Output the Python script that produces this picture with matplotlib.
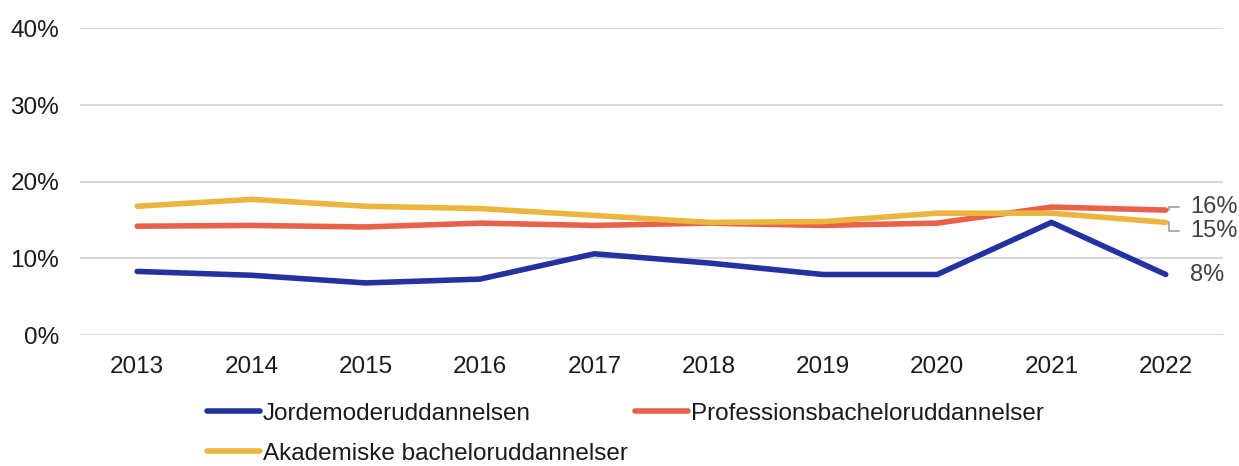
import matplotlib
matplotlib.use("Agg")
import matplotlib.pyplot as plt
from matplotlib.ticker import PercentFormatter

# ── Data ──────────────────────────────────────────────────────────────────────
years = ["2013", "2014", "2015", "2016", "2017", "2018", "2019", "2020", "2021", "2022"]
jordemoder = [8.3, 7.8, 6.8, 7.3, 10.6, 9.4, 7.9, 7.9, 14.7, 7.9]
professions = [14.2, 14.3, 14.1, 14.6, 14.3, 14.6, 14.3, 14.6, 16.7, 16.3]
akademiske = [16.8, 17.7, 16.8, 16.5, 15.6, 14.7, 14.8, 15.9, 15.9, 14.7]
end_labels = ["8%", "16%", "15%"]

BLUE = "#2332A0"
RED = "#E9614A"
YELLOW = "#EBB53E"
GRID = "#D9D9D9"

plt.rcParams["font.family"] = ["Liberation Sans", "DejaVu Sans"]

fig = plt.figure(figsize=(12.39, 4.66), dpi=100)
ax = fig.add_axes([0.0646, 0.281, 0.9224, 0.658])

x = list(range(len(years)))
lw = 4.0
l1, = ax.plot(x, jordemoder, color=BLUE, lw=lw, solid_capstyle="round",
              label="Jordemoderuddannelsen")
l2, = ax.plot(x, professions, color=RED, lw=lw, solid_capstyle="round",
              label="Professionsbacheloruddannelser")
l3, = ax.plot(x, akademiske, color=YELLOW, lw=lw, solid_capstyle="round",
              label="Akademiske bacheloruddannelser")

ax.set_xlim(-0.5, len(years) - 0.5)
ax.set_ylim(0, 40)
ax.set_yticks([0, 10, 20, 30, 40])
ax.yaxis.set_major_formatter(PercentFormatter(decimals=0))
ax.set_xticks(x)
ax.set_xticklabels(years)
ax.tick_params(axis="both", length=0, labelsize=17.5, labelcolor="#1a1a1a")
ax.tick_params(axis="y", pad=15)
ax.tick_params(axis="x", pad=15)
ax.grid(axis="y", color=GRID, lw=1.5)
ax.set_axisbelow(True)
for s in ax.spines.values():
    s.set_visible(False)

# ── End labels ────────────────────────────────────────────────────────────────
last = x[-1]
lead = dict(arrowstyle="-", color="#A6A6A6", lw=1.3, shrinkA=6, shrinkB=0,
            connectionstyle="angle,angleA=0,angleB=90,rad=0", relpos=(0, 0.5))
ax.annotate(end_labels[0], xy=(last, jordemoder[-1]), xytext=(24, -1),
            textcoords="offset pixels", va="center", ha="left",
            fontsize=17, color="#404040")
ax.annotate(end_labels[1], xy=(last + 0.03, professions[-1]), xytext=(21, 3),
            textcoords="offset pixels", va="center", ha="left",
            fontsize=17, color="#404040", arrowprops=lead)
ax.annotate(end_labels[2], xy=(last + 0.03, akademiske[-1]), xytext=(21, -9),
            textcoords="offset pixels", va="center", ha="left",
            fontsize=17, color="#404040", arrowprops=lead)

# ── Legend ────────────────────────────────────────────────────────────────────
fig.legend(handles=[l1, l3, l2], ncol=2, loc="upper left",
           bbox_to_anchor=(0.167, 0.136), frameon=False, fontsize=17.5,
           handlelength=2.2, handletextpad=0.1, columnspacing=0.3,
           labelspacing=0.75, borderpad=0, borderaxespad=0,
           labelcolor="#1a1a1a")

fig.savefig("out.png", dpi=100)
